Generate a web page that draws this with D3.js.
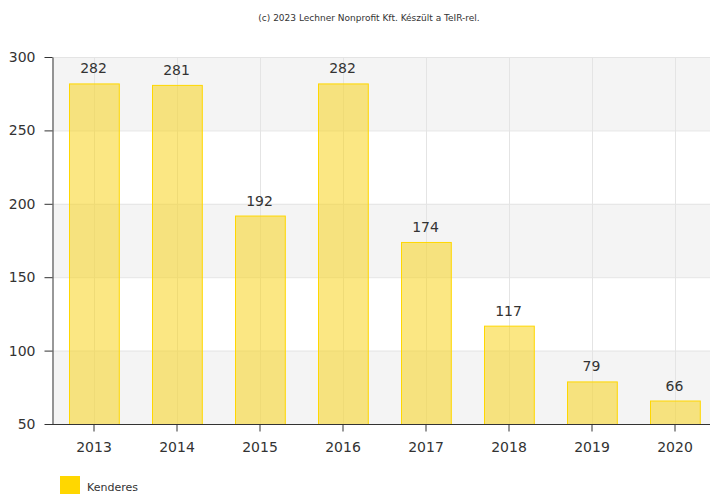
<!DOCTYPE html>
<html>
<head>
<meta charset="utf-8">
<script src="https://cdn.jsdelivr.net/npm/d3@7"></script>
<style>
  body { margin: 0; background: #fff; }
  svg { display: block; font-family: "DejaVu Sans", Verdana, sans-serif; }
</style>
</head>
<body>
<svg id="chart"></svg>
<script>
const years = ["2013", "2014", "2015", "2016", "2017", "2018", "2019", "2020"];
const values = [282, 281, 192, 282, 174, 117, 79, 66];
const yTicks = [50, 100, 150, 200, 250, 300];
const seriesName = "Kenderes";
const credit = "(c) 2023 Lechner Nonprofit Kft. Készült a TeIR-rel.";

const width = 710, height = 494;
const marginLeft = 52, marginTop = 57, marginBottom = 70;
const plotRight = 716;

const svg = d3.select("#chart").attr("width", width).attr("height", height);

const x = d3.scaleBand().domain(years).range([marginLeft, plotRight]).paddingInner(0.4).paddingOuter(0.2);
const xc = d3.scalePoint().domain(years).range([marginLeft, plotRight]).padding(0.5);
const y = d3.scaleLinear().domain([50, 300]).range([height - marginBottom, marginTop]);

// alternating bands
const bands = d3.pairs(yTicks).filter((d, i) => i % 2 === 0);
svg.append("g").selectAll("rect").data(bands).join("rect")
    .attr("x", marginLeft)
    .attr("y", d => y(d[1]))
    .attr("width", plotRight - marginLeft)
    .attr("height", d => y(d[0]) - y(d[1]))
    .attr("fill", "#f4f4f4");

// grid lines
svg.append("g").selectAll("line").data(yTicks).join("line")
    .attr("x1", marginLeft).attr("x2", plotRight)
    .attr("y1", d => y(d) + 0.5).attr("y2", d => y(d) + 0.5)
    .attr("stroke", "#e4e4e4");
svg.append("g").selectAll("line").data(years).join("line")
    .attr("x1", d => Math.round(xc(d)) + 0.5).attr("x2", d => Math.round(xc(d)) + 0.5)
    .attr("y1", marginTop).attr("y2", height - marginBottom)
    .attr("stroke", "#e4e4e4");

// bars
svg.append("g").selectAll("rect").data(years).join("rect")
    .attr("x", d => Math.round(x(d)) + 0.5)
    .attr("y", (d, i) => y(values[i]) + 0.5)
    .attr("width", x.bandwidth())
    .attr("height", (d, i) => y(50) - y(values[i]))
    .attr("fill", "rgba(247, 212, 30, 0.55)")
    .attr("stroke", "#ffd700")
    .attr("stroke-width", 1);

// value labels
svg.append("g").selectAll("text").data(years).join("text")
    .attr("x", d => xc(d))
    .attr("y", (d, i) => y(values[i]) - 10)
    .attr("text-anchor", "middle")
    .attr("font-size", 14)
    .attr("fill", "#333")
    .text((d, i) => values[i]);

// axes
const xAxis = svg.append("g")
    .attr("transform", `translate(0,${height - marginBottom + 0.5})`)
    .call(d3.axisBottom(xc).tickSize(7).tickSizeOuter(0).tickPadding(11));
const yAxis = svg.append("g")
    .attr("transform", `translate(${marginLeft + 0.5},0)`)
    .call(d3.axisLeft(y).tickValues(yTicks).tickSize(8).tickSizeOuter(0).tickPadding(9));
[xAxis, yAxis].forEach(a => {
    a.select(".domain").attr("stroke", "#333");
    a.selectAll(".tick line").attr("stroke", "#333");
    a.selectAll(".tick text").attr("fill", "#333").attr("font-size", 14)
        .attr("font-family", "\"DejaVu Sans\", Verdana, sans-serif");
});
xAxis.select(".domain").attr("d", `M${marginLeft},0H${plotRight}`);

// credit
svg.append("text")
    .attr("x", 369).attr("y", 21)
    .attr("text-anchor", "middle")
    .attr("font-size", 9)
    .attr("fill", "#333")
    .text(credit);

// legend
svg.append("rect").attr("x", 60).attr("y", 476).attr("width", 20).attr("height", 18).attr("fill", "#ffd700");
svg.append("text").attr("x", 87).attr("y", 491).attr("font-size", 11).attr("fill", "#333").text(seriesName);
</script>
</body>
</html>
